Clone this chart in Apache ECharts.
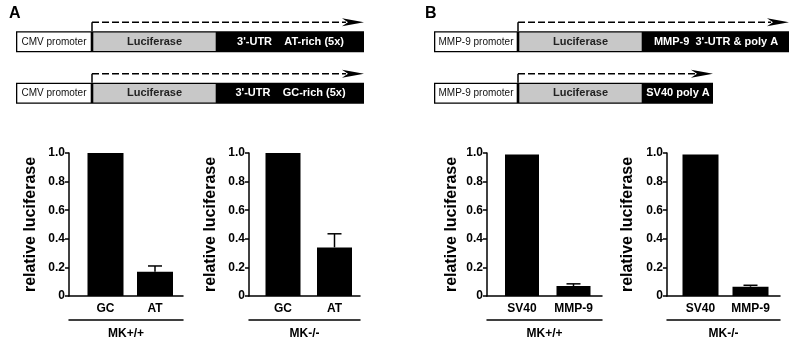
<!DOCTYPE html>
<html><head><meta charset="utf-8">
<script src="https://cdn.jsdelivr.net/npm/echarts@6/dist/echarts.min.js"></script>
<style>html,body{margin:0;padding:0;background:#fff}#c{width:795px;height:346px}</style>
</head><body><div id="c"></div>
<script>
// ---- bar chart data ----
const catsA = ['GC', 'AT'];
const catsB = ['SV40', 'MMP-9'];
const vals1 = [1.0, 0.17];  const err1 = [0, 0.04];
const vals2 = [1.0, 0.34];  const err2 = [0, 0.095];
const vals3 = [0.99, 0.07]; const err3 = [0, 0.015];
const vals4 = [0.99, 0.065]; const err4 = [0, 0.01];
const groups = ['MK+/+', 'MK-/-', 'MK+/+', 'MK-/-'];
const yName = 'relative luciferase';

// ---- construct diagrams (segment lengths) ----
const rowsA = ['row1', 'row2'];
const promA = [76, 76];
const lucA = [125, 125];
const utrA = [147, 147];
const promLabelsA = ['CMV promoter', 'CMV promoter'];
const lucLabelsA = ['Luciferase', 'Luciferase'];
const utrLabelsA = ["3'-UTR    AT-rich (5x)", "3'-UTR    GC-rich (5x)"];
const rowsB = ['row1', 'row2'];
const promB = [84, 84];
const lucB = [125, 125];
const utrB = [146, 70];
const promLabelsB = ['MMP-9 promoter', 'MMP-9 promoter'];
const lucLabelsB = ['Luciferase', 'Luciferase'];
const utrLabelsB = ["MMP-9  3'-UTR & poly A", 'SV40 poly A'];

const FONT = "'Liberation Sans', Arial, Helvetica, sans-serif";

const charts = [
  {cats: catsA, vals: vals1, err: err1, axL: 69, axR: 183, c: [105.5, 155], bw: 36, gap: 30},
  {cats: catsA, vals: vals2, err: err2, axL: 249, axR: 360, c: [283, 334.5], bw: 35, gap: 30},
  {cats: catsB, vals: vals3, err: err3, axL: 487, axR: 602, c: [522, 573.5], bw: 34, gap: 27},
  {cats: catsB, vals: vals4, err: err4, axL: 667, axR: 780, c: [700.5, 750.5], bw: 36, gap: 31}
];
const TOP = 153, H = 143;

const grid = [], xAxis = [], yAxis = [], series = [];
charts.forEach((ch, i) => {
  const gA = grid.length;
  grid.push({left: ch.axL, top: TOP, width: ch.axR - ch.axL, height: H, outerBoundsMode: 'none', containLabel: false});
  const step = ch.c[1] - ch.c[0];
  const gB = grid.length;
  grid.push({left: ch.c[0] - step / 2, top: TOP, width: 2 * step, height: H, outerBoundsMode: 'none', containLabel: false});
  // grid A axes
  xAxis.push({type: 'category', gridIndex: gA, data: ch.cats, axisLine: {show: true, lineStyle: {color: '#000', width: 1.5}},
    axisTick: {show: false}, axisLabel: {show: false}, splitLine: {show: false}});
  xAxis.push({type: 'category', gridIndex: gA, position: 'bottom', offset: 24, data: ch.cats,
    axisLine: {show: true, lineStyle: {color: '#000', width: 1.5}}, axisTick: {show: false}, axisLabel: {show: false},
    name: groups[i], nameLocation: 'middle', nameGap: 8,
    nameTextStyle: {fontFamily: FONT, fontWeight: 'bold', fontSize: 12, color: '#000', verticalAlign: 'top'}});
  yAxis.push({type: 'value', gridIndex: gA, min: 0, max: 1, interval: 0.2,
    axisLine: {show: true, lineStyle: {color: '#000', width: 1.5}},
    axisTick: {show: true, length: 4, lineStyle: {color: '#000', width: 1.5}},
    axisLabel: {show: true, margin: 4, fontFamily: FONT, fontWeight: 'bold', fontSize: 12, color: '#000',
      formatter: v => (v === 0 ? '0' : (+v).toFixed(1))},
    splitLine: {show: false},
    name: yName, nameLocation: 'middle', nameGap: ch.gap, nameRotate: 90,
    nameTextStyle: {fontFamily: FONT, fontWeight: 'bold', fontSize: 16, color: '#000'}});
  // grid B axes
  const xB = xAxis.length;
  xAxis.push({type: 'category', gridIndex: gB, data: ch.cats, axisLine: {show: false}, axisTick: {show: false},
    axisLabel: {show: true, interval: 0, hideOverlap: false, margin: 7, fontFamily: FONT, fontWeight: 'bold', fontSize: 12, color: '#000'}});
  const yB = yAxis.length;
  yAxis.push({type: 'value', gridIndex: gB, min: 0, max: 1, show: false, splitLine: {show: false}});
  series.push({type: 'bar', xAxisIndex: xB, yAxisIndex: yB, data: ch.vals, barWidth: ch.bw,
    itemStyle: {color: '#000'}, silent: true, z: 2});
  series.push({type: 'custom', xAxisIndex: xB, yAxisIndex: yB, silent: true, z: 3,
    data: ch.vals.map((v, k) => [k, v, ch.err[k]]),
    renderItem: (params, api) => {
      const e = api.value(2);
      if (!e) return {type: 'group', children: []};
      const b = api.coord([api.value(0), api.value(1)]);
      const t = api.coord([api.value(0), api.value(1) + e]);
      const cw = 7;
      return {type: 'group', children: [
        {type: 'line', shape: {x1: b[0], y1: b[1], x2: t[0], y2: t[1]}, style: {stroke: '#000', lineWidth: 1.5}},
        {type: 'line', shape: {x1: t[0] - cw, y1: t[1], x2: t[0] + cw, y2: t[1]}, style: {stroke: '#000', lineWidth: 1.5}}
      ]};
    }});
});

// ---- construct diagrams ----
function addDiagram(left, width, rows, prom, luc, utr, pl, ll, ul) {
  const g = grid.length;
  grid.push({left: left, top: 16, width: width, height: 103, outerBoundsMode: 'none', containLabel: false});
  const xi = xAxis.length;
  xAxis.push({type: 'value', gridIndex: g, min: 0, max: width, show: false, splitLine: {show: false}});
  const yi = yAxis.length;
  yAxis.push({type: 'category', gridIndex: g, data: rows, inverse: true, show: false});
  const border = {borderColor: '#000', borderWidth: 1.3};
  series.push({type: 'bar', stack: 'c' + g, xAxisIndex: xi, yAxisIndex: yi, data: prom, barWidth: 21, silent: true,
    itemStyle: Object.assign({color: '#fff'}, border),
    label: {show: true, position: 'inside', formatter: p => pl[p.dataIndex], fontFamily: FONT, fontSize: 10, color: '#111'}});
  series.push({type: 'bar', stack: 'c' + g, xAxisIndex: xi, yAxisIndex: yi, data: luc, barWidth: 21, silent: true,
    itemStyle: Object.assign({color: '#c8c8c8'}, border),
    label: {show: true, position: 'inside', formatter: p => ll[p.dataIndex], fontFamily: FONT, fontSize: 11, fontWeight: 'bold', color: '#222'}});
  series.push({type: 'bar', stack: 'c' + g, xAxisIndex: xi, yAxisIndex: yi, data: utr, barWidth: 21, silent: true,
    itemStyle: Object.assign({color: '#000'}, border),
    label: {show: true, position: 'inside', formatter: p => ul[p.dataIndex], fontFamily: FONT, fontSize: 11, fontWeight: 'bold', color: '#fff'}});
  // transcription arrows
  series.push({type: 'custom', xAxisIndex: xi, yAxisIndex: yi, silent: true, z: 5,
    data: rows.map((r, k) => [prom[k], k, prom[k] + luc[k] + utr[k]]),
    renderItem: (params, api) => {
      const p0 = api.coord([api.value(0), api.value(1)]);
      const p1 = api.coord([api.value(2), api.value(1)]);
      const top = p0[1] - 10.5;
      const ay = top - 9;
      const x0 = p0[0], x1 = p1[0];
      return {type: 'group', children: [
        {type: 'line', shape: {x1: x0, y1: top, x2: x0, y2: ay}, style: {stroke: '#000', lineWidth: 1.5}},
        {type: 'line', shape: {x1: x0, y1: ay, x2: x1 - 18, y2: ay}, style: {stroke: '#000', lineWidth: 1.5, lineDash: [7, 3]}},
        {type: 'polygon', shape: {points: [[x1 - 22, ay - 4], [x1, ay], [x1 - 22, ay + 4], [x1 - 16, ay]]}, style: {fill: '#000'}}
      ]};
    }});
}
addDiagram(16, 348, rowsA, promA, lucA, utrA, promLabelsA, lucLabelsA, utrLabelsA);
addDiagram(434, 355, rowsB, promB, lucB, utrB, promLabelsB, lucLabelsB, utrLabelsB);

const chart = echarts.init(document.getElementById('c'), null, {renderer: 'canvas'});
chart.setOption({
  backgroundColor: '#fff',
  animation: false,
  title: [
    {text: 'A', left: 4, top: 1, textStyle: {fontFamily: FONT, fontSize: 16, fontWeight: 'bold', color: '#000'}},
    {text: 'B', left: 420, top: 1, textStyle: {fontFamily: FONT, fontSize: 16, fontWeight: 'bold', color: '#000'}}
  ],
  grid: grid, xAxis: xAxis, yAxis: yAxis, series: series
});
</script></body></html>
